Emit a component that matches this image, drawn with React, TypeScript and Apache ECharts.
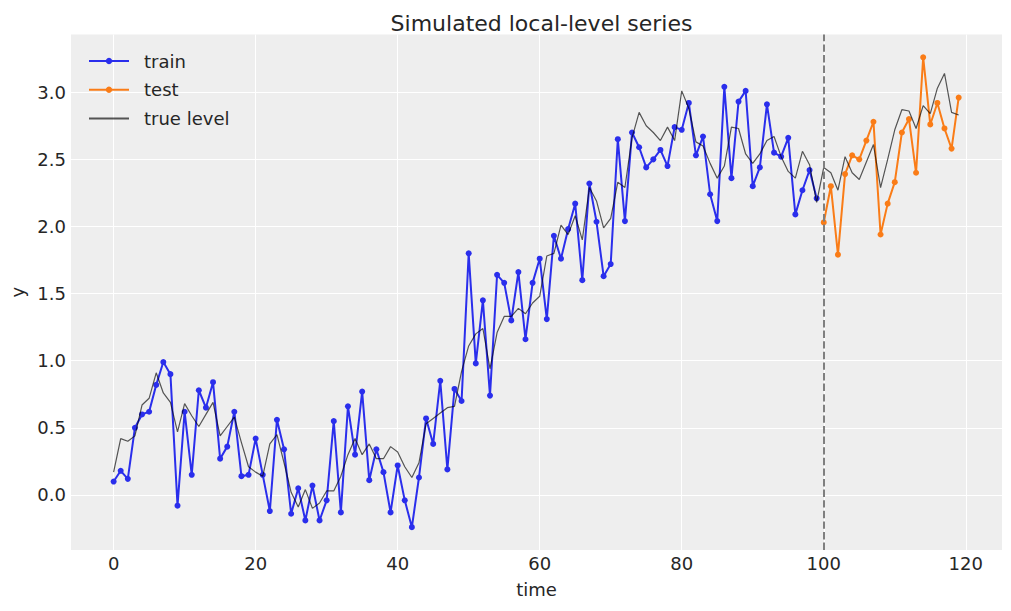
import React, { useEffect, useRef } from "react";
import * as echarts from "echarts";

// observed series (train: t = 0..99, test: t = 100..119)
const trainY = [
  0.10, 0.18, 0.12, 0.50, 0.60, 0.62, 0.82, 0.99, 0.90, -0.08,
  0.62, 0.15, 0.78, 0.65, 0.84, 0.27, 0.36, 0.62, 0.14, 0.15,
  0.42, 0.15, -0.12, 0.56, 0.34, -0.14, 0.05, -0.19, 0.07, -0.19,
  -0.04, 0.55, -0.13, 0.66, 0.30, 0.77, 0.11, 0.34, 0.17, -0.13,
  0.22, -0.04, -0.24, 0.13, 0.57, 0.38, 0.85, 0.19, 0.79, 0.70,
  1.80, 0.98, 1.45, 0.74, 1.64, 1.58, 1.30, 1.66, 1.16, 1.58,
  1.76, 1.31, 1.93, 1.76, 1.98, 2.17, 1.60, 2.32, 2.035, 1.63,
  1.72, 2.65, 2.04, 2.70, 2.59, 2.44, 2.50, 2.57, 2.45, 2.74,
  2.72, 2.92, 2.53, 2.67, 2.24, 2.04, 3.04, 2.36, 2.93, 3.01,
  2.30, 2.44, 2.91, 2.55, 2.52, 2.66, 2.09, 2.27, 2.42, 2.21,
];
const testY = [
  2.03, 2.30, 1.79, 2.39, 2.53, 2.50, 2.64, 2.78, 1.94, 2.17,
  2.33, 2.70, 2.80, 2.40, 3.26, 2.76, 2.92, 2.73, 2.58, 2.96,
];
// true level, t = 0..119
const levelY = [
  0.17, 0.42, 0.40, 0.44, 0.67, 0.72, 0.91, 0.76, 0.69, 0.47,
  0.68, 0.59, 0.51, 0.60, 0.69, 0.44, 0.51, 0.58, 0.39, 0.21,
  0.17, 0.14, 0.38, 0.45, 0.24, 0.02, -0.09, 0.04, -0.10, -0.06,
  0.03, 0.03, 0.14, 0.30, 0.42, 0.30, 0.38, 0.27, 0.27, 0.36,
  0.32, 0.21, 0.13, 0.24, 0.53, 0.57, 0.61, 0.65, 0.66, 0.92,
  1.11, 1.20, 1.24, 0.94, 1.21, 1.33, 1.33, 1.39, 1.35, 1.43,
  1.48, 1.78, 1.80, 2.01, 1.94, 2.08, 1.90, 2.29, 2.19, 1.99,
  2.06, 2.33, 2.29, 2.66, 2.85, 2.75, 2.70, 2.64, 2.74, 2.64,
  3.01, 2.88, 2.63, 2.60, 2.47, 2.36, 2.45, 2.74, 2.73, 2.54,
  2.47, 2.54, 2.64, 2.67, 2.52, 2.41, 2.36, 2.56, 2.46, 2.18,
  2.44, 2.40, 2.27, 2.52, 2.40, 2.35, 2.48, 2.61, 2.29, 2.50,
  2.72, 2.87, 2.86, 2.73, 2.90, 2.84, 3.03, 3.14, 2.85, 2.83,
];
const trainStart = 0;
const testStart = 100;
const splitTime = 100;
const seriesNames = ["train", "test", "true level"];

export default function App() {
  const ref = useRef<HTMLDivElement>(null);
  useEffect(() => {
    if (!ref.current) return;
    const chart = echarts.init(ref.current, null, { renderer: "svg" });
    const font = "DejaVu Sans";
    const textColor = "#262626";
    const toPairs = (arr: number[], start: number) => arr.map((v, i) => [start + i, v]);
    chart.setOption({
      animation: false,
      title: {
        text: "Simulated local-level series",
        left: 536.5,
        textAlign: "center",
        top: 7,
        textStyle: { fontFamily: font, fontSize: 22, fontWeight: "normal", color: textColor },
      },
      grid: {
        left: 71,
        right: 9,
        top: 34.5,
        bottom: 61,
        show: true,
        backgroundColor: "#eeeeee",
        borderWidth: 0,
        containLabel: false,
        outerBoundsMode: "none",
      },
      legend: {
        orient: "vertical",
        left: 88,
        top: 52,
        padding: 0,
        itemWidth: 40,
        itemHeight: 8,
        itemGap: 10.7,
        textStyle: { fontFamily: font, fontSize: 18, color: textColor, padding: [0, 0, 0, 10] },
        data: [
          seriesNames[0],
          seriesNames[1],
          { name: seriesNames[2], itemStyle: { opacity: 0 } },
        ],
      },
      xAxis: {
        type: "value",
        min: -6,
        max: 125.1,
        minInterval: 20,
        maxInterval: 20,
        name: "time",
        nameLocation: "middle",
        nameGap: 30,
        nameTextStyle: { fontFamily: font, fontSize: 18, color: textColor },
        axisLine: { show: false },
        axisTick: { show: false },
        axisLabel: {
          margin: 4,
          fontFamily: font,
          fontSize: 18,
          color: textColor,
          showMinLabel: false,
          showMaxLabel: false,
        },
        splitLine: { show: true, showMinLine: false, showMaxLine: false, lineStyle: { color: "#ffffff", width: 1 } },
      },
      yAxis: {
        type: "value",
        min: -0.41,
        max: 3.43,
        minInterval: 0.5,
        maxInterval: 0.5,
        name: "y",
        nameLocation: "middle",
        nameGap: 41,
        nameTextStyle: { fontFamily: font, fontSize: 18, color: textColor },
        axisLine: { show: false },
        axisTick: { show: false },
        axisLabel: {
          margin: 5,
          fontFamily: font,
          fontSize: 18,
          color: textColor,
          showMinLabel: false,
          showMaxLabel: false,
          formatter: (v: number) => v.toFixed(1),
        },
        splitLine: { show: true, showMinLine: false, showMaxLine: false, lineStyle: { color: "#ffffff", width: 1 } },
      },
      series: [
        {
          name: "train",
          type: "line",
          data: toPairs(trainY, trainStart),
          symbol: "circle",
          symbolSize: 6,
          showSymbol: true,
          color: "#2a2eec",
          lineStyle: { width: 2, color: "#2a2eec" },
          itemStyle: { color: "#2a2eec" },
          z: 2,
        },
        {
          name: "test",
          type: "line",
          data: toPairs(testY, testStart),
          symbol: "circle",
          symbolSize: 6,
          showSymbol: true,
          color: "#fa7c17",
          lineStyle: { width: 2, color: "#fa7c17" },
          itemStyle: { color: "#fa7c17" },
          z: 2,
        },
        {
          name: "true level",
          type: "line",
          data: toPairs(levelY, 0),
          symbol: "none",
          showSymbol: false,
          color: "rgba(0,0,0,0.65)",
          lineStyle: { width: 1.2, color: "rgba(0,0,0,0.65)" },
          z: 3,
          markLine: {
            silent: true,
            symbol: "none",
            label: { show: false },
            lineStyle: { color: "#7f7f7f", type: [7.4, 3.2], width: 2 },
            data: [{ xAxis: splitTime }],
          },
        },
      ],
    });
    return () => chart.dispose();
  }, []);
  return (
    <div
      ref={ref}
      style={{ position: "absolute", left: 0, top: 0, width: 1011, height: 611 }}
    />
  );
}
